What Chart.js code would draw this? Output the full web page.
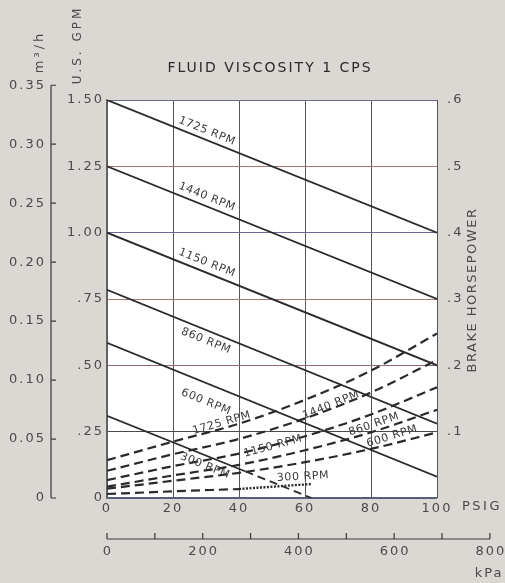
<!DOCTYPE html>
<html>
<head>
<meta charset="utf-8">
<script src="https://cdn.jsdelivr.net/npm/chart.js@4.4.1/dist/chart.umd.min.js"></script>
<style>
  html, body { margin: 0; padding: 0; background: #dbd7d3; }
</style>
</head>
<body>
<canvas id="pump-chart" width="505" height="583"></canvas>
<script>
// pressure points, PSIG
var psigEnds = [0, 100];
var psigCurve = [0, 20, 40, 60, 80, 100];
var psig300 = [0, 42];
var psig300Ext = [42, 62];
var psig300Bhp = [0, 20, 40];
var psig300BhpExt = [40, 50, 62];

// capacity, U.S. GPM
var gpm1725 = [1.50, 1.00];
var gpm1440 = [1.25, 0.75];
var gpm1150 = [1.00, 0.50];
var gpm860 = [0.785, 0.28];
var gpm600 = [0.585, 0.08];
var gpm300 = [0.31, 0.10];
var gpm300Ext = [0.10, 0];

// brake horsepower
var bhp1725 = [0.057, 0.085, 0.112, 0.148, 0.192, 0.248];
var bhp1440 = [0.041, 0.066, 0.089, 0.120, 0.159, 0.208];
var bhp1150 = [0.027, 0.048, 0.067, 0.093, 0.126, 0.167];
var bhp860 = [0.017, 0.034, 0.050, 0.072, 0.099, 0.133];
var bhp600 = [0.014, 0.026, 0.038, 0.054, 0.074, 0.099];
var bhp300 = [0.006, 0.010, 0.0135];
var bhp300Ext = [0.0135, 0.017, 0.021];

// secondary axis ticks
var m3hTicks = [0, 0.05, 0.10, 0.15, 0.20, 0.25, 0.30, 0.35];
var kpaTicks = [0, 100, 200, 300, 400, 500, 600, 700, 800];
var kpaLabels = [0, 200, 400, 600, 800];

var M3H_PER_GPM = 0.225;   // as printed on the m3/h scale
var KPA_PER_PSI = 6.895;

var ink = '#2a2a2a';
var labelInk = '#4a4a4a';
var gridColors = ['#55607a', '#4a4a4a', '#8a6a7a', '#a87878', '#6a6a9a', '#a87878', '#6a6a9a'];

function pts(xs, ys) {
    return xs.map(function (x, i) { return { x: x, y: ys[i] }; });
}

function solid(label, xs, ys, dash) {
    return {
        label: label,
        data: pts(xs, ys),
        yAxisID: 'y',
        borderColor: ink,
        borderWidth: 1.8,
        borderDash: dash || [],
        pointRadius: 0,
        fill: false
    };
}

function dashed(label, xs, ys) {
    return {
        label: label,
        data: pts(xs, ys),
        yAxisID: 'y2',
        borderColor: ink,
        borderWidth: 2.2,
        borderDash: [9, 5],
        cubicInterpolationMode: 'monotone',
        pointRadius: 0,
        fill: false
    };
}

// curve labels: axis, psig, value, angle
var curveLabels = [
    ['1725 RPM', 'y', 30.3, 1.383, 22],
    ['1440 RPM', 'y', 30.3, 1.135, 22],
    ['1150 RPM', 'y', 30.3, 0.886, 22],
    ['860 RPM', 'y', 30, 0.592, 22],
    ['600 RPM', 'y', 30, 0.362, 22],
    ['300 RPM', 'y', 29.7, 0.121, 22],
    ['1725 RPM', 'y2', 34.8, 0.113, -16],
    ['1440 RPM', 'y2', 67.9, 0.140, -22],
    ['1150 RPM', 'y2', 50.3, 0.078, -15],
    ['860 RPM', 'y2', 80.9, 0.111, -19],
    ['600 RPM', 'y2', 86.4, 0.093, -17],
    ['300 RPM', 'y2', 59.4, 0.032, -3]
];

function text(ctx, str, x, y, opts) {
    ctx.save();
    ctx.translate(x, y);
    ctx.rotate((opts.angle || 0) * Math.PI / 180);
    ctx.font = opts.font || '13px "DejaVu Sans"';
    ctx.fillStyle = opts.color || labelInk;
    ctx.letterSpacing = (opts.spacing || 0) + 'px';
    ctx.textAlign = opts.align || 'center';
    ctx.textBaseline = 'middle';
    ctx.fillText(str, 0, 0);
    ctx.restore();
}

var extras = {
    id: 'extras',
    beforeDraw: function (chart) {
        var ctx = chart.ctx;
        var a = chart.chartArea;
        ctx.fillStyle = '#dbd7d3';
        ctx.fillRect(0, 0, chart.width, chart.height);
        ctx.fillStyle = '#ffffff';
        ctx.fillRect(a.left, a.top, a.right - a.left, a.bottom - a.top);
        ctx.letterSpacing = '2px';
    },
    afterDatasetsDraw: function (chart) {
        var ctx = chart.ctx;
        curveLabels.forEach(function (l) {
            var x = chart.scales.x.getPixelForValue(l[2]);
            var y = chart.scales[l[1]].getPixelForValue(l[3]);
            text(ctx, l[0], x, y, { angle: l[4], font: '11px "DejaVu Sans"', color: '#3a3a3a', spacing: 0.6 });
        });
    },
    afterDraw: function (chart) {
        var ctx = chart.ctx;
        var xS = chart.scales.x;
        var yS = chart.scales.y;

        // m3/h scale
        var ax = 51;
        var top = yS.getPixelForValue(0.35 / M3H_PER_GPM);
        var bottom = yS.getPixelForValue(0);
        ctx.save();
        ctx.strokeStyle = '#3a3a3a';
        ctx.lineWidth = 1.2;
        ctx.beginPath();
        ctx.moveTo(ax, top);
        ctx.lineTo(ax, bottom);
        m3hTicks.forEach(function (v) {
            var y = yS.getPixelForValue(v / M3H_PER_GPM);
            ctx.moveTo(ax, y);
            ctx.lineTo(ax + 5, y);
        });
        ctx.stroke();
        ctx.restore();
        m3hTicks.forEach(function (v) {
            var y = yS.getPixelForValue(v / M3H_PER_GPM);
            text(ctx, v === 0 ? '0' : v.toFixed(2), 46, y, { align: 'right', spacing: 2 });
        });

        // kPa scale
        var ky = 539;
        ctx.save();
        ctx.strokeStyle = '#3a3a3a';
        ctx.lineWidth = 1.2;
        ctx.beginPath();
        ctx.moveTo(xS.getPixelForValue(0), ky);
        ctx.lineTo(xS.getPixelForValue(800 / KPA_PER_PSI), ky);
        kpaTicks.forEach(function (v) {
            var x = xS.getPixelForValue(v / KPA_PER_PSI);
            ctx.moveTo(x, ky);
            ctx.lineTo(x, ky - 6);
        });
        ctx.stroke();
        ctx.restore();
        kpaLabels.forEach(function (v) {
            text(ctx, String(v), xS.getPixelForValue(v / KPA_PER_PSI) + 1, 552, { spacing: 2 });
        });
        text(ctx, 'kPa', 489, 574, { spacing: 2 });
        text(ctx, 'PSIG', 462, 507, { align: 'left', spacing: 2.5 });

        // titles
        text(ctx, 'FLUID VISCOSITY 1 CPS', 270, 68, { font: '14px "DejaVu Sans"', color: '#2a2a2a', spacing: 2 });
        text(ctx, 'U.S. GPM', 78, 45, { angle: -90, font: '12px "DejaVu Sans"', spacing: 3 });
        text(ctx, 'm\u00b3/h', 40, 52, { angle: -90, font: '13px "DejaVu Sans"', spacing: 3 });
        text(ctx, 'BRAKE HORSEPOWER', 473, 290, { angle: -90, font: '13px "DejaVu Sans"', spacing: 1.5 });
    }
};

Chart.defaults.font.family = '"DejaVu Sans"';

var ctx = document.getElementById('pump-chart').getContext('2d');
var pumpChart = new Chart(ctx, {
    type: 'line',
    data: {
        datasets: [
            solid('1725 RPM', psigEnds, gpm1725),
            solid('1440 RPM', psigEnds, gpm1440),
            solid('1150 RPM', psigEnds, gpm1150),
            solid('860 RPM', psigEnds, gpm860),
            solid('600 RPM', psigEnds, gpm600),
            solid('300 RPM', psig300, gpm300),
            solid('300 RPM ext', psig300Ext, gpm300Ext, [8, 5]),
            dashed('1725 RPM BHP', psigCurve, bhp1725),
            dashed('1440 RPM BHP', psigCurve, bhp1440),
            dashed('1150 RPM BHP', psigCurve, bhp1150),
            dashed('860 RPM BHP', psigCurve, bhp860),
            dashed('600 RPM BHP', psigCurve, bhp600),
            dashed('300 RPM BHP', psig300Bhp, bhp300),
            Object.assign(dashed('300 RPM BHP ext', psig300BhpExt, bhp300Ext), { borderDash: [2, 1.5], borderWidth: 2.4 })
        ]
    },
    options: {
        responsive: false,
        animation: false,
        devicePixelRatio: 1,
        layout: { padding: { top: 100, left: 51, right: 28, bottom: 60 } },
        plugins: {
            legend: { display: false },
            tooltip: { enabled: false },
            title: { display: false }
        },
        scales: {
            x: {
                type: 'linear',
                position: 'bottom',
                min: 0,
                max: 100,
                ticks: { stepSize: 20, color: labelInk, font: { size: 13 }, padding: 3 },
                grid: { color: '#555', lineWidth: 1, drawTicks: false },
                border: { color: '#55607a', width: 1.2 },
                afterFit: function (s) { s.height = 25; }
            },
            y: {
                position: 'left',
                min: 0,
                max: 1.5,
                ticks: {
                    stepSize: 0.25,
                    color: labelInk,
                    font: { size: 13 },
                    padding: 3,
                    callback: function (v) {
                        if (v === 0) return '0';
                        return v >= 1 ? v.toFixed(2) : v.toFixed(2).slice(1);
                    }
                },
                grid: {
                    drawTicks: false,
                    lineWidth: 1,
                    color: function (c) { return gridColors[c.index] || '#555'; }
                },
                border: { color: '#666', width: 1.5 },
                afterFit: function (s) { s.width = 56; }
            },
            y2: {
                position: 'right',
                min: 0,
                max: 0.6,
                ticks: {
                    stepSize: 0.1,
                    color: labelInk,
                    font: { size: 13 },
                    padding: 10,
                    callback: function (v) { return v === 0 ? '' : v.toFixed(1).slice(1); }
                },
                grid: { display: false, drawTicks: false },
                border: { display: false },
                afterFit: function (s) { s.width = 40; }
            }
        }
    },
    plugins: [extras]
});
</script>
</body>
</html>
